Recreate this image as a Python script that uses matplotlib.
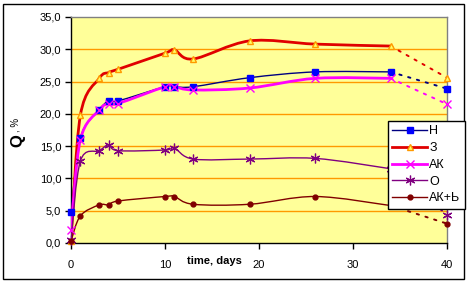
import matplotlib
matplotlib.use('Agg')
import matplotlib.pyplot as plt
from matplotlib.path import Path
from matplotlib.patches import PathPatch, Rectangle
from matplotlib.lines import Line2D
from matplotlib.ticker import FuncFormatter, MultipleLocator

plt.rcParams['font.family'] = ['Liberation Sans', 'DejaVu Sans']

# time points, days
days = [0, 1, 3, 4, 5, 10, 11, 13, 19, 26, 34, 40]

# Q, % per sample
q_n   = [4.8, 16.3, 20.6, 22.0, 22.0, 24.2, 24.2, 24.2, 25.6, 26.5, 26.5, 23.9]
q_z   = [0.3, 19.8, 25.5, 26.4, 26.9, 29.4, 29.9, 28.5, 31.3, 30.8, 30.5, 25.6]
q_ak  = [2.0, 16.0, 20.6, 21.6, 21.6, 24.2, 24.2, 23.7, 24.0, 25.5, 25.5, 21.5]
q_o   = [0.5, 12.7, 14.3, 15.2, 14.3, 14.4, 14.7, 13.0, 13.0, 13.1, 11.5, 4.4]
q_akb = [0.3, 4.2, 5.9, 5.9, 6.5, 7.2, 7.2, 6.0, 6.0, 7.2, 5.8, 3.0]

labels = ['Н', 'З', 'АК', 'О', 'АК+Ь']

BG = '#FFFF99'
GRID = '#FF9900'


def smooth_path(xs, ys):
    # Catmull-Rom style bezier, similar to Excel "smoothed line"
    pts = list(zip(xs, ys))
    verts = [pts[0]]
    codes = [Path.MOVETO]
    n = len(pts)
    for i in range(n - 1):
        p0 = pts[i - 1] if i > 0 else pts[i]
        p1 = pts[i]
        p2 = pts[i + 1]
        p3 = pts[i + 2] if i + 2 < n else pts[i + 1]
        c1 = (p1[0] + (p2[0] - p0[0]) / 6, p1[1] + (p2[1] - p0[1]) / 6)
        c2 = (p2[0] - (p3[0] - p1[0]) / 6, p2[1] - (p3[1] - p1[1]) / 6)
        verts += [c1, c2, p2]
        codes += [Path.CURVE4] * 3
    return Path(verts, codes)


fig = plt.figure(figsize=(4.69, 2.84), dpi=100)
fig.patch.set_facecolor('white')
fig.patches.append(Rectangle((3 / 469, 1 - 279 / 284), 461 / 469, 275 / 284,
                             transform=fig.transFigure, fill=False,
                             edgecolor='black', linewidth=1))

ax = fig.add_axes([71 / 469, 1 - 243 / 284, 376 / 469, 226 / 284])
ax.set_facecolor(BG)
ax.set_xlim(0, 40)
ax.set_ylim(0, 35)

for y in range(5, 35, 5):
    ax.axhline(y, color=GRID, lw=1, zorder=1)

series = [
    (q_n,   dict(color='#000080', lw=1.0), dict(marker='s', ms=4.5, mfc='#0000FF', mec='#0000FF')),
    (q_z,   dict(color='#E00000', lw=2.0), dict(marker='^', ms=4.5, mfc='#FFFF66', mec='#FF9900', mew=1)),
    (q_ak,  dict(color='#FF00FF', lw=2.0), dict(marker='x', ms=5.5, mfc='none', mec='#FF00FF', mew=1)),
    (q_o,   dict(color='#800080', lw=1.0), dict(marker=(6, 2, 0), ms=7, mfc='none', mec='#800080', mew=0.9)),
    (q_akb, dict(color='#800000', lw=1.0), dict(marker='o', ms=3.5, mfc='#800000', mec='#800000')),
]

handles = []
for (vals, lstyle, mstyle), lab in zip(series, labels):
    solid_x, solid_y = days[:-1], vals[:-1]
    patch = PathPatch(smooth_path(solid_x, solid_y), fill=False,
                      edgecolor=lstyle['color'], lw=lstyle['lw'], zorder=3,
                      capstyle='round', joinstyle='round')
    ax.add_patch(patch)
    ax.plot(days[-2:], vals[-2:], color=lstyle['color'], lw=1.4,
            linestyle=(0, (1.2, 3.5)), dash_capstyle='round', zorder=3)
    ax.plot(days, vals, linestyle='none', zorder=4, clip_on=False, **mstyle)
    handles.append(Line2D([], [], color=lstyle['color'], lw=lstyle['lw'], label=lab, **mstyle))

ax.xaxis.set_major_locator(MultipleLocator(10))
ax.yaxis.set_major_locator(MultipleLocator(5))
ax.yaxis.set_major_formatter(FuncFormatter(lambda v, p: f'{v:.1f}'.replace('.', ',')))
ax.tick_params(axis='both', labelsize=8, length=4, width=1, color='black', pad=3)
ax.tick_params(axis='x', pad=8)

for side in ['top', 'right']:
    ax.spines[side].set_color('#808080')
    ax.spines[side].set_linewidth(1)
for side in ['left', 'bottom']:
    ax.spines[side].set_color('black')
    ax.spines[side].set_linewidth(1)

fig.text(214 / 469, 1 - 261 / 284, 'time, days', fontsize=8, fontweight='bold',
         ha='center', va='center')
fig.text(18 / 469, 1 - 141 / 284, 'Q', fontsize=12, fontweight='bold',
         rotation=90, ha='center', va='center')
fig.text(15 / 469, 1 - 125 / 284, ', %', fontsize=7,
         rotation=90, ha='center', va='center')

leg = fig.legend(handles=handles, loc='upper left',
                 bbox_to_anchor=(388 / 469, 1 - 121 / 284),
                 fontsize=9, frameon=True, fancybox=False,
                 edgecolor='black', facecolor='white', framealpha=1,
                 handlelength=2.8, handletextpad=0.15, labelspacing=0.38,
                 borderpad=0.35, borderaxespad=0)
leg.get_frame().set_linewidth(1)

fig.savefig('out.png', dpi=100)
